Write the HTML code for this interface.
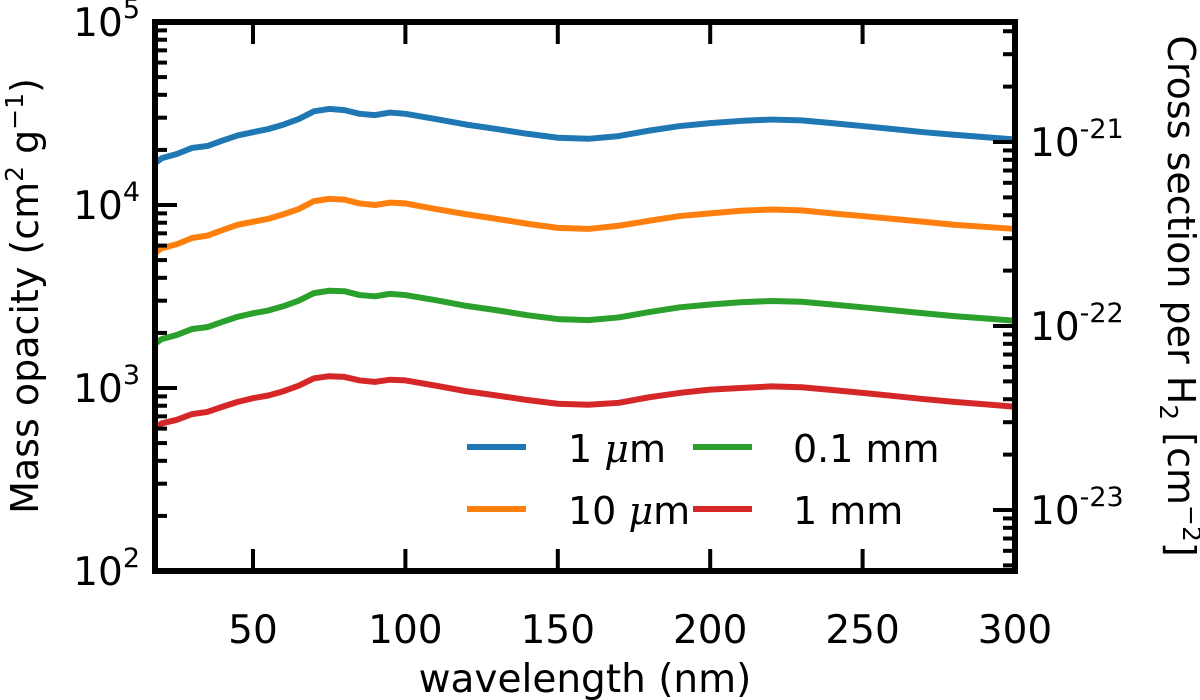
<!DOCTYPE html>
<html><head><meta charset="utf-8"><style>
html,body{margin:0;padding:0;background:#fff;}
svg{display:block;font-family:"DejaVu Sans","Liberation Sans",sans-serif;}
</style></head><body>
<svg id="chart" width="1200" height="700"></svg>
<script>
const xs=[18,20,25,30,35,40,45,50,55,60,65,70,75,80,85,90,95,100,110,120,130,140,150,160,170,180,190,200,210,220,230,240,250,260,270,280,290,300];
const blue=[17000,18000,19000,20500,21000,22500,24000,25000,26000,27500,29500,32500,33500,33000,31500,31000,32000,31500,29500,27500,26000,24500,23300,23000,23800,25500,27000,28000,28800,29300,29000,28000,27000,26000,25000,24200,23500,22800];
const orange=[5500,5800,6100,6600,6800,7300,7800,8100,8400,8900,9500,10500,10800,10700,10200,10000,10300,10200,9500,8900,8400,7900,7500,7400,7700,8200,8700,9000,9300,9450,9350,9000,8700,8400,8100,7800,7600,7400];
const green=[1750,1850,1950,2100,2150,2300,2450,2560,2650,2800,3000,3300,3400,3380,3220,3170,3270,3220,3020,2810,2660,2500,2380,2350,2430,2600,2760,2860,2940,2990,2960,2860,2760,2660,2560,2470,2400,2330];
const red=[600,640,670,720,740,790,840,880,910,960,1030,1130,1160,1150,1100,1080,1110,1100,1030,960,910,860,820,810,830,890,940,980,1000,1020,1010,975,940,905,870,840,815,790];
const series=[["1 |μ|m",blue,"#1f77b4"],["10 |μ|m",orange,"#ff7f0e"],["0.1 mm",green,"#2ca02c"],["1 mm",red,"#d62728"]];
const xTicks=[50,100,150,200,250,300];
const yExp=[2,3,4,5];
const y2Exp=[-21,-22,-23];

const L=155,R=1015,T=22,B=571;
const X=v=>100.6+(v)*3.048;
const Y=v=>T+(5-Math.log10(v))*(B-T)/3;
const Y2=e=>142+(-21-e)*184;
const svg=document.getElementById('chart');
const NS='http://www.w3.org/2000/svg';
function el(t,a,txt){const e=document.createElementNS(NS,t);for(const k in a)e.setAttribute(k,a[k]);if(txt!==undefined)e.textContent=txt;svg.appendChild(e);return e;}

series.forEach(s=>{
  const p=el('polyline',{points:xs.map((x,i)=>X(x)+','+Y(s[1][i])).join(' '),fill:'none',stroke:s[2],'stroke-width':6,'stroke-linejoin':'round'});
  
  
});
for(let e=2;e<5;e++){for(let m=1;m<10;m++){const y=Y(m*Math.pow(10,e));const len=m==1?22:12;
 const t=el('line',{x1:L,x2:L+len,y1:y,y2:y,stroke:'#000','stroke-width':4});
 
 }}
yExp.forEach(e=>{const t=el('text',{x:140,y:Y(Math.pow(10,e))+14,'text-anchor':'end','font-size':39});
 t.innerHTML='10<tspan dy="-18" font-size="27">'+e+'</tspan>';
 
 });
for(let e=-24;e<=-21;e++){for(let m=1;m<10;m++){const y=Y2(e)-Math.log10(m)*184;if(y<T||y>B)continue;const len=m==1?22:12;
 const t=el('line',{x1:R-len,x2:R,y1:y,y2:y,stroke:'#000','stroke-width':4});
 
 }}
y2Exp.forEach(e=>{const t=el('text',{x:1030,y:Y2(e)+14,'font-size':39});
 t.innerHTML='10<tspan dy="-18" font-size="27">'+e+'</tspan>';
 
 });
xTicks.forEach(v=>{const x=X(v);
 const a=el('line',{x1:x,x2:x,y1:B,y2:B-22,stroke:'#000','stroke-width':4});
 
 
 const b=el('line',{x1:x,x2:x,y1:T,y2:T+22,stroke:'#000','stroke-width':4});
 
 
 const t=el('text',{x:x,y:643,'text-anchor':'middle','font-size':39},String(v));
 
 });
const fr=el('rect',{x:L,y:T,width:R-L,height:B-T,fill:'none',stroke:'#000','stroke-width':6});


const xt=el('text',{x:585,y:692,'text-anchor':'middle','font-size':39},'wavelength (nm)');


const yt=el('text',{transform:'translate(38,296) rotate(-90)','text-anchor':'middle','font-size':38});
yt.innerHTML='Mass opacity (cm<tspan dy="-15" font-size="25">2</tspan><tspan dy="15"> g</tspan><tspan dy="-15" font-size="25">−1</tspan><tspan dy="15">)</tspan>';


const y2t=el('text',{transform:'translate(1168,296) rotate(90)','text-anchor':'middle','font-size':38});
y2t.innerHTML='Cross section per H<tspan dy="8" font-size="25">2</tspan><tspan dy="-8"> [cm</tspan><tspan dy="-15" font-size="25">−2</tspan><tspan dy="15">]</tspan>';


const lp=[[467,447,568],[467,509,568],[693,447,793],[693,509,793]];
series.forEach((s,i)=>{const [lx,ly,tx]=lp[i];
 const l=el('line',{x1:lx,x2:lx+59,y1:ly,y2:ly,stroke:s[2],'stroke-width':6});
 
 
 const parts=s[0].split('|');
 const t=el('text',{x:tx,y:ly+15,'font-size':38});
 t.innerHTML=parts.length>1?parts[0]+'<tspan font-style="italic" font-family="DejaVu Serif, serif">'+parts[1]+'</tspan>'+parts[2]:parts[0];
 
 });
</script>
</body></html>
